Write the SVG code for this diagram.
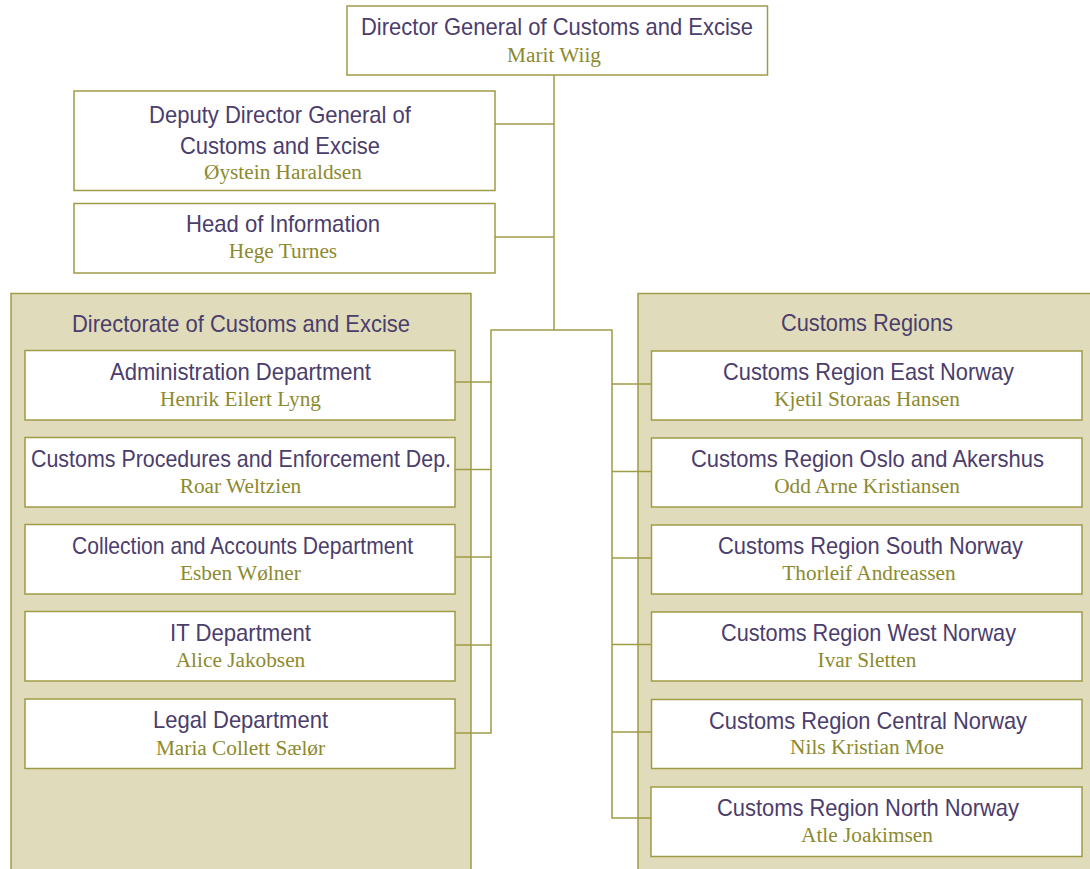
<svg xmlns="http://www.w3.org/2000/svg" width="1090" height="869" viewBox="0 0 1090 869">
<style>
.box{fill:#ffffff;stroke:#a09b45;stroke-width:1.5}
.panel{fill:#e0dcbb;stroke:#a09b45;stroke-width:1.5}
.t{font-family:"Liberation Sans Narrow","Liberation Sans",Arial,sans-serif;font-size:24px;fill:#4b3d6c;text-anchor:middle}
.n{font-family:"Liberation Serif","Times New Roman",serif;font-size:21.3px;fill:#8c8a2e;text-anchor:middle}
.c{fill:none;stroke:#a09b45;stroke-width:1.5}
</style>
<rect width="1090" height="869" fill="#ffffff"/>
<g id="panel-directorate">
<rect class="panel" x="11" y="293.5" width="460" height="590"/>
<text class="t" x="241" y="331.5" textLength="338" lengthAdjust="spacingAndGlyphs">Directorate of Customs and Excise</text>
</g>
<g id="panel-regions">
<rect class="panel" x="638" y="293.5" width="470" height="590"/>
<text class="t" x="867" y="330.5" textLength="172" lengthAdjust="spacingAndGlyphs">Customs Regions</text>
</g>
<g id="connectors">
<polyline class="c" points="554,75 554,330"/>
<polyline class="c" points="495,124 554,124"/>
<polyline class="c" points="495,237 554,237"/>
<polyline class="c" points="455,382 491,382 491,330 612,330 612,818 651,818"/>
<polyline class="c" points="455,469.5 491,469.5"/>
<polyline class="c" points="455,557 491,557"/>
<polyline class="c" points="455,645 491,645"/>
<polyline class="c" points="455,733 491,733 491,382"/>
<polyline class="c" points="612,384 651,384"/>
<polyline class="c" points="612,471.5 651,471.5"/>
<polyline class="c" points="612,558 651,558"/>
<polyline class="c" points="612,644.5 651,644.5"/>
<polyline class="c" points="612,732 651,732"/>
</g>
<g id="director-general">
<rect class="box" x="347" y="6" width="420.5" height="69"/>
<text class="t" x="557" y="35" textLength="392" lengthAdjust="spacingAndGlyphs">Director General of Customs and Excise</text>
<text class="n" x="554" y="62">Marit Wiig</text>
</g>
<g id="deputy-director">
<rect class="box" x="74" y="91" width="421" height="99.5"/>
<text class="t" x="280" y="122.5" textLength="262" lengthAdjust="spacingAndGlyphs">Deputy Director General of</text>
<text class="t" x="280" y="153.5" textLength="200" lengthAdjust="spacingAndGlyphs">Customs and Excise</text>
<text class="n" x="283" y="179">Øystein Haraldsen</text>
</g>
<g id="head-information">
<rect class="box" x="74" y="203.5" width="421" height="69.5"/>
<text class="t" x="283" y="231.5" textLength="194" lengthAdjust="spacingAndGlyphs">Head of Information</text>
<text class="n" x="283" y="257.5">Hege Turnes</text>
</g>
<g id="administration">
<rect class="box" x="25" y="350.5" width="430" height="69.5"/>
<text class="t" x="240.5" y="379.5" textLength="261" lengthAdjust="spacingAndGlyphs">Administration Department</text>
<text class="n" x="240.5" y="406">Henrik Eilert Lyng</text>
</g>
<g id="procedures">
<rect class="box" x="25" y="437.5" width="430" height="69.5"/>
<text class="t" x="241" y="466.5" textLength="420" lengthAdjust="spacingAndGlyphs">Customs Procedures and Enforcement Dep.</text>
<text class="n" x="240.5" y="493">Roar Weltzien</text>
</g>
<g id="collection">
<rect class="box" x="25" y="524.5" width="430" height="69.5"/>
<text class="t" x="242.5" y="553.5" textLength="341" lengthAdjust="spacingAndGlyphs">Collection and Accounts Department</text>
<text class="n" x="240.5" y="580">Esben Wølner</text>
</g>
<g id="it">
<rect class="box" x="25" y="611.5" width="430" height="69.5"/>
<text class="t" x="240.5" y="640.5" textLength="141" lengthAdjust="spacingAndGlyphs">IT Department</text>
<text class="n" x="240.5" y="667">Alice Jakobsen</text>
</g>
<g id="legal">
<rect class="box" x="25" y="699" width="430" height="69.5"/>
<text class="t" x="240.5" y="728" textLength="175" lengthAdjust="spacingAndGlyphs">Legal Department</text>
<text class="n" x="240.5" y="754.5">Maria Collett Sælør</text>
</g>
<g id="region-east">
<rect class="box" x="651.5" y="351" width="430.5" height="69"/>
<text class="t" x="868.5" y="380" textLength="291" lengthAdjust="spacingAndGlyphs">Customs Region East Norway</text>
<text class="n" x="867" y="405.5">Kjetil Storaas Hansen</text>
</g>
<g id="region-oslo">
<rect class="box" x="651.5" y="438" width="430.5" height="69"/>
<text class="t" x="867.5" y="467" textLength="353" lengthAdjust="spacingAndGlyphs">Customs Region Oslo and Akershus</text>
<text class="n" x="867" y="492.5">Odd Arne Kristiansen</text>
</g>
<g id="region-south">
<rect class="box" x="651.5" y="525" width="430.5" height="69"/>
<text class="t" x="870.5" y="554" textLength="305" lengthAdjust="spacingAndGlyphs">Customs Region South Norway</text>
<text class="n" x="869" y="579.5">Thorleif Andreassen</text>
</g>
<g id="region-west">
<rect class="box" x="651.5" y="612" width="430.5" height="69"/>
<text class="t" x="868.5" y="641" textLength="295" lengthAdjust="spacingAndGlyphs">Customs Region West Norway</text>
<text class="n" x="867" y="666.5">Ivar Sletten</text>
</g>
<g id="region-central">
<rect class="box" x="651.5" y="699.5" width="430.5" height="69"/>
<text class="t" x="868" y="728.5" textLength="318" lengthAdjust="spacingAndGlyphs">Customs Region Central Norway</text>
<text class="n" x="867" y="754">Nils Kristian Moe</text>
</g>
<g id="region-north">
<rect class="box" x="651" y="787" width="431" height="69.5"/>
<text class="t" x="868" y="816" textLength="302" lengthAdjust="spacingAndGlyphs">Customs Region North Norway</text>
<text class="n" x="867" y="841.5">Atle Joakimsen</text>
</g>
</svg>
